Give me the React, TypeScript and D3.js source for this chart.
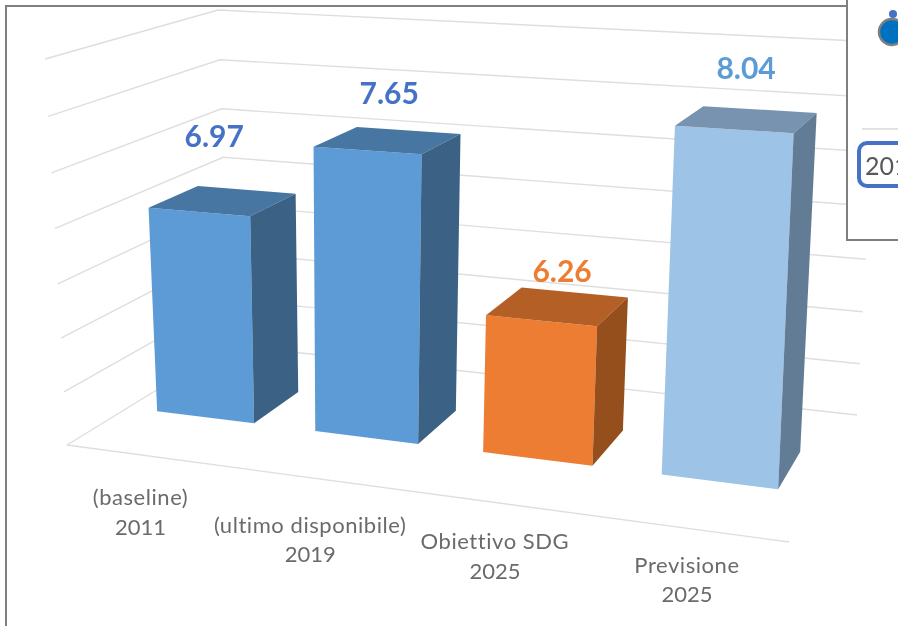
import React from "react";
import * as d3 from "d3";

const categories = [
  ["(baseline)", "2011"],
  ["(ultimo disponibile)", "2019"],
  ["Obiettivo SDG", "2025"],
  ["Previsione", "2025"],
];
const values = [6.97, 7.65, 6.26, 8.04];
const labelColors = ["#4472c4", "#4472c4", "#ed7d31", "#5b9bd5"];
const frontColors = ["#5b9bd5", "#5b9bd5", "#ed7d31", "#9dc3e6"];
const topColors = ["#4676a2", "#4676a2", "#b45f25", "#7893b0"];
const sideColors = ["#3a6285", "#3a6285", "#954f1a", "#647c95"];
const gridValues = [5, 5.5, 6, 6.5, 7, 7.5, 8, 8.5];

// Layout: the corners of the 3D chart box on screen
type P = [number, number];
const floorQuad: P[] = [[67, 445], [789, 542], [857, 415], [230, 345]];
const topQuad: P[] = [[45, 59], [806, 101], [878, 42], [218, 10]];
const perspectiveK = 1.046;
const barDepth: [number, number] = [0.34, 0.64];
const dataLabelOffset: P[] = [[-9, -66], [1, -48], [4, -36], [-1, -52]];
const catLabelOffset: P[] = [[-7, 41], [-6, 46], [-1, 38], [-1, 36]];

function homography(q: P[]) {
  const [[x0, y0], [x1, y1], [x2, y2], [x3, y3]] = q;
  const dx1 = x1 - x2, dx2 = x3 - x2, sx = x0 - x1 + x2 - x3;
  const dy1 = y1 - y2, dy2 = y3 - y2, sy = y0 - y1 + y2 - y3;
  const den = dx1 * dy2 - dx2 * dy1;
  const g = (sx * dy2 - dx2 * sy) / den;
  const h = (dx1 * sy - sx * dy1) / den;
  const a = x1 - x0 + g * x1, b = x3 - x0 + h * x3;
  const d = y1 - y0 + g * y1, e = y3 - y0 + h * y3;
  return (u: number, v: number): P => {
    const w = g * u + h * v + 1;
    return [(a * u + b * v + x0) / w, (d * u + e * v + y0) / w];
  };
}

const floorH = homography(floorQuad);
const topH = homography(topQuad);
const yScale = d3.scaleLinear().domain([5, 8.5]).range([0, 1]);
const uScale = d3
  .scaleBand<number>()
  .domain(d3.range(categories.length))
  .range([0, 1])
  .paddingInner(0.38)
  .paddingOuter(0.19);

function project(u: number, v: number, value: number): P {
  const w = yScale(value);
  const t = w / (perspectiveK * (1 - w) + w);
  const a = floorH(u, v);
  const b = topH(u, v);
  return [a[0] + (b[0] - a[0]) * t, a[1] + (b[1] - a[1]) * t];
}

const line = d3.line<P>();
const poly = (pts: P[]) => line(pts) + "Z";

export default function App() {
  const font = "Lato, Carlito, sans-serif";
  return (
    <svg
      width={898}
      height={626}
      style={{ position: "fixed", left: 0, top: 0, background: "#fff" }}
    >
      <defs>
        <filter id="soft" x="-5%" y="-5%" width="110%" height="110%">
          <feGaussianBlur stdDeviation="0.45" />
        </filter>
      </defs>
      <g filter="url(#soft)">
        <rect x={6} y={6} width={1000} height={1000} fill="#fff" stroke="#7f7f7f" strokeWidth={2} />
        {gridValues.map((g) => (
          <path
            key={g}
            d={line([project(0, 0, g), project(0, 1, g), project(1, 1, g)]) || ""}
            fill="none"
            stroke="#dedede"
            strokeWidth={1.4}
          />
        ))}
        <path
          d={line([project(0, 0, 5), project(1, 0, 5)]) || ""}
          fill="none"
          stroke="#dedede"
          strokeWidth={1.4}
        />
        {values.map((val, i) => {
          const u0 = uScale(i) as number;
          const u1 = u0 + uScale.bandwidth();
          const [v0, v1] = barDepth;
          const base = 5;
          return (
            <g key={i}>
              <path
                d={poly([project(u0, v0, val), project(u1, v0, val), project(u1, v0, base), project(u0, v0, base)])}
                fill={frontColors[i]}
              />
              <path
                d={poly([project(u0, v0, val), project(u1, v0, val), project(u1, v1, val), project(u0, v1, val)])}
                fill={topColors[i]}
              />
              <path
                d={poly([project(u1, v0, val), project(u1, v1, val), project(u1, v1, base), project(u1, v0, base)])}
                fill={sideColors[i]}
              />
            </g>
          );
        })}
        {values.map((val, i) => {
          const uc = (uScale(i) as number) + uScale.bandwidth() / 2;
          const p = project(uc, (barDepth[0] + barDepth[1]) / 2, val);
          return (
            <text
              key={i}
              x={p[0] + dataLabelOffset[i][0]}
              y={p[1] + dataLabelOffset[i][1]}
              textAnchor="middle"
              dominantBaseline="central"
              fontFamily={font}
              fontWeight={700}
              fontSize={30}
              fill={labelColors[i]}
            >
              {val.toFixed(2)}
            </text>
          );
        })}
        {categories.map((lines, i) => {
          const uc = (uScale(i) as number) + uScale.bandwidth() / 2;
          const p = project(uc, 0, 5);
          return (
            <text key={i} textAnchor="middle" fontFamily={font} fontSize={22} fill="#6b6b6b">
              {lines.map((l, j) => (
                <tspan
                  key={j}
                  x={p[0] + catLabelOffset[i][0]}
                  y={p[1] + catLabelOffset[i][1] + j * 29.5}
                  dominantBaseline="central"
                  letterSpacing={j === 0 ? 0.55 : 0}
                >
                  {l}
                </tspan>
              ))}
            </text>
          );
        })}
        <rect x={847} y={-10} width={100} height={250} fill="#fff" stroke="#7f7f7f" strokeWidth={2} />
        <circle cx={892} cy={32} r={13} fill="#0070c0" stroke="#7f7f7f" strokeWidth={2.5} />
        <circle cx={893} cy={14} r={4} fill="#4472c4" />
        <line x1={862} x2={900} y1={129} y2={129} stroke="#d9d9d9" strokeWidth={1.5} />
        <rect x={859} y={143} width={80} height={43} rx={8} fill="#fff" stroke="#4472c4" strokeWidth={4} />
        <text x={865} y={175} fontFamily={font} fontSize={25} fill="#595959">
          201
        </text>
      </g>
    </svg>
  );
}
